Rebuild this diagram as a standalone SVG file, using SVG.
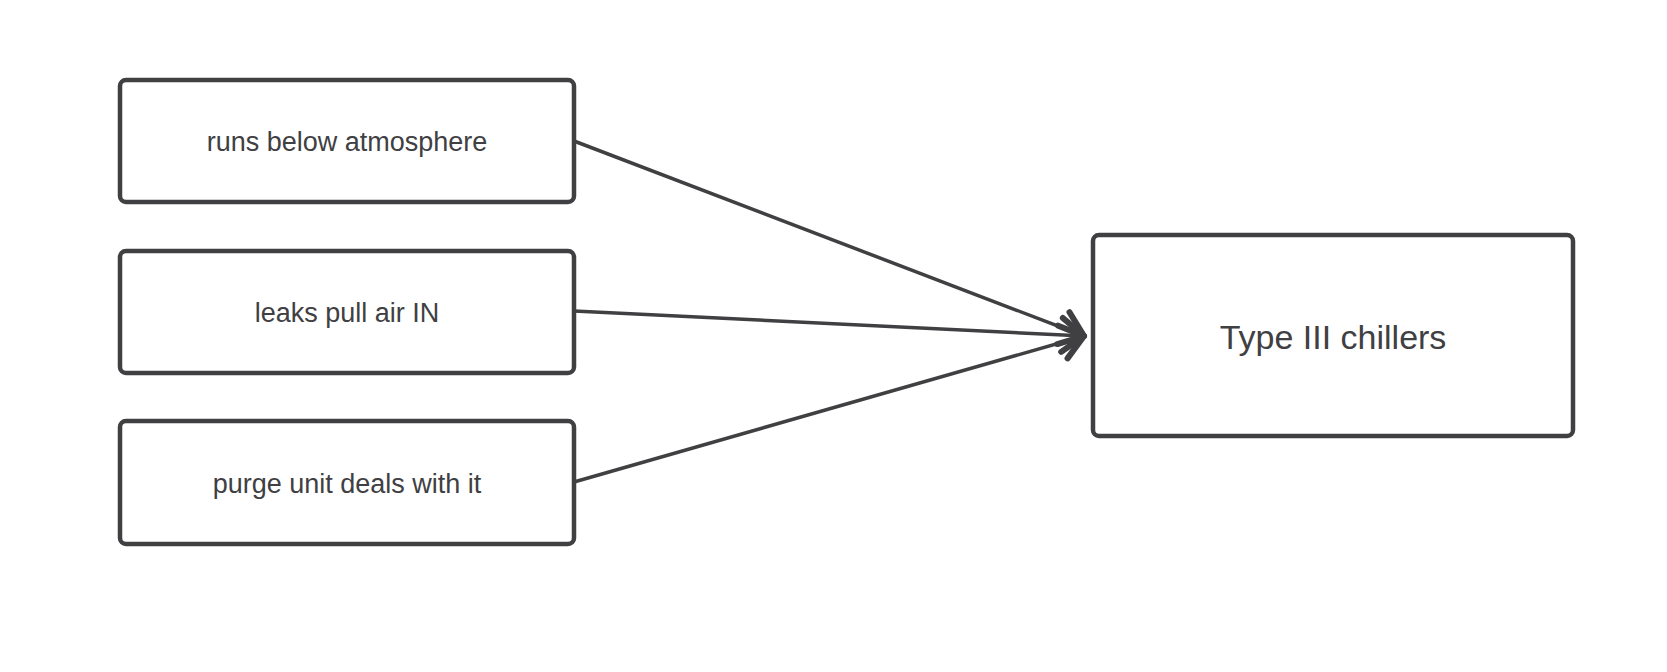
<svg xmlns="http://www.w3.org/2000/svg" width="1667" height="672" viewBox="0 0 1667 672">
<style>
.box{fill:#fff;stroke:#404043;stroke-width:4.5}
.t{font-family:"Liberation Sans",sans-serif;fill:#404043;text-anchor:middle;dominant-baseline:middle}
.c{stroke:#404043;stroke-width:3.5;fill:none}
</style>
<defs>
<marker id="a" markerUnits="userSpaceOnUse" markerWidth="40" markerHeight="60" refX="30" refY="25" orient="auto">
<polyline points="8,8 30,25 8,42" fill="none" stroke="#404043" stroke-width="6" stroke-linecap="round" stroke-linejoin="round"/>
</marker>
</defs>
<rect width="1667" height="672" fill="#fff"/>
<g id="connectors">
<line class="c" x1="574" y1="141" x2="1084" y2="336" marker-end="url(#a)"/>
<line class="c" x1="574" y1="311" x2="1084" y2="336" marker-end="url(#a)"/>
<line class="c" x1="574" y1="482" x2="1084" y2="336" marker-end="url(#a)"/>
</g>
<g id="n1"><rect class="box" x="120" y="80" width="454" height="122" rx="6"/><text class="t" x="347" y="144" font-size="27">runs below atmosphere</text></g>
<g id="n2"><rect class="box" x="120" y="251" width="454" height="122" rx="6"/><text class="t" x="347" y="315" font-size="27">leaks pull air IN</text></g>
<g id="n3"><rect class="box" x="120" y="421" width="454" height="123" rx="6"/><text class="t" x="347" y="486" font-size="27">purge unit deals with it</text></g>
<g id="n4"><rect class="box" x="1093" y="235" width="480" height="201" rx="6"/><text class="t" x="1333" y="340" font-size="34">Type III chillers</text></g>
</svg>
